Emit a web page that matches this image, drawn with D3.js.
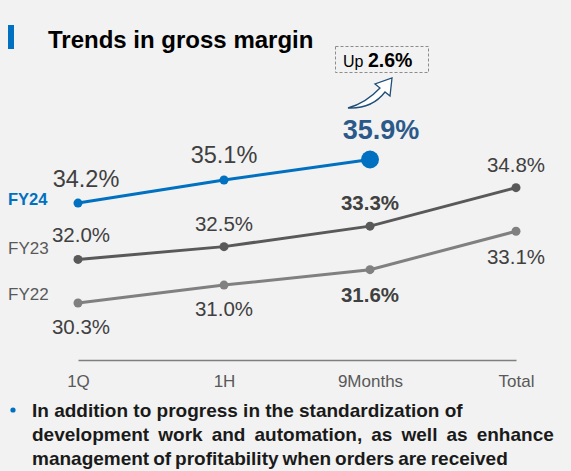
<!DOCTYPE html>
<html>
<head>
<meta charset="utf-8">
<script src="https://cdn.jsdelivr.net/npm/d3@7"></script>
<style>
  html, body { margin: 0; padding: 0; background: #f2f2f2; overflow: hidden; }
  svg { display: block; font-family: "Liberation Sans", Arial, sans-serif; }
</style>
</head>
<body>
<div id="chart"></div>
<script>
// data
const periods = ["1Q", "1H", "9Months", "Total"];
const fy24 = [34.2, 35.1, 35.9, null];
const fy23 = [32.0, 32.5, 33.3, 34.8];
const fy22 = [30.3, 31.0, 31.6, 33.1];
const seriesNames = ["FY24", "FY23", "FY22"];
const upText = ["Up ", "2.6%"];
const bulletLines = [
  "In addition to progress in the standardization of",
  "development work and automation, as well as enhance",
  "management of profitability when orders are received"
];

const W = 571, H = 471;
const svg = d3.select("#chart").append("svg")
  .attr("width", W).attr("height", H);

svg.append("rect").attr("width", W).attr("height", H).attr("fill", "#f2f2f2");

// title
svg.append("rect").attr("x", 8).attr("y", 25).attr("width", 6).attr("height", 24).attr("fill", "#0070c0");
svg.append("text").attr("x", 48).attr("y", 48)
  .attr("font-size", 24).attr("font-weight", "bold").attr("fill", "#000")
  .text("Trends in gross margin");

const x = d3.scalePoint().domain(periods).range([78, 516]);
const y = d3.scaleLinear().domain([30.3, 35.9]).range([303, 159.5]);

// axis
const ax = svg.append("g")
  .attr("transform", "translate(0,360)")
  .call(d3.axisBottom(x).tickSize(0).tickSizeOuter(0).tickPadding(15));
ax.select(".domain").attr("stroke", "#7f7f7f").attr("stroke-width", 1.5);
ax.selectAll("text")
  .attr("font-size", 17).attr("fill", "#595959")
  .attr("font-family", "'Liberation Sans', Arial, sans-serif");

// series styling (label offsets relative to each point)
const series = [
  { name: seriesNames[0], values: fy24, color: "#0070c0", nameColor: "#0070c0", nameBold: true, nameY: 205,
    labelColor: "#404040", labelSize: 23.5, labelBold: [false, false, false, false],
    dx: [8, 0, 0, 0], dy: [-16, -17, -21, 0] },
  { name: seriesNames[1], values: fy23, color: "#595959", nameColor: "#595959", nameBold: false, nameY: 254,
    labelColor: "#404040", labelSize: 20.5, labelBold: [false, false, true, false],
    dx: [3, 0, 0, 0], dy: [-17, -16, -16, -16] },
  { name: seriesNames[2], values: fy22, color: "#808080", nameColor: "#595959", nameBold: false, nameY: 300,
    labelColor: "#404040", labelSize: 20.5, labelBold: [false, false, true, false],
    dx: [3, 0, 0, 0], dy: [31, 31, 32, 33] }
];

const line = d3.line()
  .defined(d => d.v != null)
  .x(d => x(d.p))
  .y(d => y(d.v));

series.forEach(s => {
  const pts = periods.map((p, i) => ({ p, v: s.values[i], i }));
  const valid = pts.filter(d => d.v != null);
  const last = valid[valid.length - 1];

  svg.append("path").datum(pts)
    .attr("fill", "none").attr("stroke", s.color).attr("stroke-width", 3)
    .attr("d", line);

  svg.selectAll(null).data(valid).enter().append("circle")
    .attr("cx", d => x(d.p)).attr("cy", d => y(d.v))
    .attr("r", d => (s.name === "FY24" && d === last) ? 9 : 4.5)
    .attr("fill", s.color);

  // value labels (the highlighted FY24 last point gets its own label)
  svg.selectAll(null).data(valid.filter(d => !(s.name === "FY24" && d === last))).enter().append("text")
    .attr("x", d => x(d.p) + s.dx[d.i])
    .attr("y", d => y(d.v) + s.dy[d.i])
    .attr("text-anchor", "middle")
    .attr("font-size", s.labelSize)
    .attr("font-weight", d => s.labelBold[d.i] ? "bold" : "normal")
    .attr("fill", s.labelColor)
    .text(d => d.v.toFixed(1) + "%");

  if (s.name === "FY24") {
    svg.append("text")
      .attr("x", x(last.p) + 11).attr("y", y(last.v) - 21)
      .attr("text-anchor", "middle")
      .attr("font-size", 27).attr("font-weight", "bold").attr("fill", "#2b5a8a")
      .text(last.v.toFixed(1) + "%");
  }

  svg.append("text").attr("x", 8).attr("y", s.nameY)
    .attr("font-size", s.nameBold ? 16.5 : 17)
    .attr("font-weight", s.nameBold ? "bold" : "normal")
    .attr("fill", s.nameColor)
    .text(s.name);
});

// "Up 2.6%" callout
svg.append("rect").attr("x", 335.5).attr("y", 46.5).attr("width", 93).attr("height", 26)
  .attr("fill", "none").attr("stroke", "#8c8c8c").attr("stroke-dasharray", "3,2");
const up = svg.append("text").attr("x", 343).attr("y", 67).attr("fill", "#000");
up.append("tspan").attr("font-size", 16).text(upText[0]);
up.append("tspan").attr("font-size", 19.5).attr("font-weight", "bold").text(upText[1]);

// curved arrow
svg.append("path")
  .attr("d", "M348,108 Q372,109 385,92 L390,96 L392,78 L375,84 L380,88 Q366,103 348,108 Z")
  .attr("fill", "#fff").attr("stroke", "#1f4e79").attr("stroke-width", 1.3)
  .attr("stroke-linejoin", "miter");

// bullet text
const wordGap = [0, 3.8, -1.3];
svg.append("circle").attr("cx", 13).attr("cy", 410).attr("r", 2.6).attr("fill", "#0070c0");
svg.selectAll(null).data(bulletLines).enter().append("text")
  .attr("x", 32).attr("y", (d, i) => 417 + i * 24)
  .attr("font-size", 19).attr("font-weight", "bold").attr("fill", "#1a1a1a")
  .attr("word-spacing", (d, i) => wordGap[i])
  .text(d => d);
</script>
</body>
</html>
